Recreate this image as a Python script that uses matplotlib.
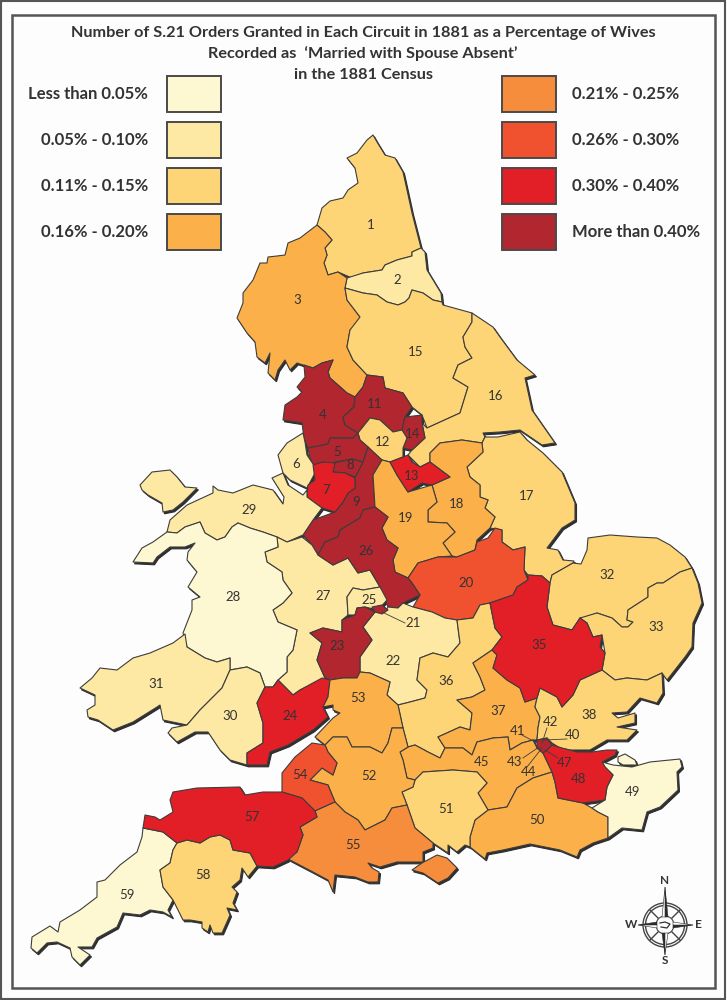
#!/usr/bin/env python3
"""S.21 orders by circuit, 1881: choropleth of England and Wales, traced by hand."""
import matplotlib

matplotlib.use("Agg")
import matplotlib.pyplot as plt
from matplotlib.patches import Circle, Polygon, Rectangle

plt.rcParams["font.family"] = ["Lato", "DejaVu Sans"]

TITLE_LINES = [
    "Number of S.21 Orders Granted in Each Circuit in 1881 as a Percentage of Wives",
    "Recorded as  \u2018Married with Spouse Absent\u2019",
    "in the 1881 Census",
]
BAND_LABELS = ["Less than 0.05%", "0.05% - 0.10%", "0.11% - 0.15%", "0.16% - 0.20%",
               "0.21% - 0.25%", "0.26% - 0.30%", "0.30% - 0.40%", "More than 0.40%"]
BAND_COLORS = ["#FEF8D2", "#FDE9A3", "#FDD577", "#FBB04A", "#F68D3C", "#F0522F", "#E21F27", "#B1262F"]

# outlines in image pixels (x, y down)
C1 = [(373,135),(377,142),(385,155),(395,158),(403,172),(407,190),(412,213),(421,248),(412,252),(412,256),(397,260),(385,265),(382,270),(363,273),(352,278),(338,272),(328,275),(324,263),(327,255),(325,248),(332,240),(325,232),(317,225),(322,208),(330,201),(343,198),(348,190),(358,183),(355,168),(347,158),(357,153),(367,140)]
C2 = [(421,248),(425,252),(427,270),(441,293),(442,302),(433,300),(423,293),(412,290),(409,298),(405,302),(398,305),(387,302),(377,295),(363,293),(345,288),(347,278),(363,273),(382,270),(385,265),(397,260),(412,256),(412,252)]
C3 = [(317,225),(325,232),(332,240),(325,248),(327,255),(324,263),(328,275),(338,272),(347,278),(345,288),(347,300),(360,317),(358,327),(350,330),(347,347),(353,360),(367,375),(363,387),(355,397),(347,393),(338,385),(330,378),(328,372),(333,360),(322,363),(313,368),(303,365),(297,363),(290,370),(285,360),(278,370),(275,380),(268,373),(270,353),(265,363),(257,357),(255,342),(247,333),(237,318),(243,303),(243,293),(253,280),(260,263),(267,263),(268,257),(277,256),(285,255),(288,243),(300,238)]
C4 = [(304,365),(313,368),(322,363),(333,360),(328,372),(330,378),(338,385),(347,393),(355,397),(354,407),(343,417),(345,425),(358,433),(353,438),(343,438),(330,438),(328,444),(308,448),(304,438),(302,423),(283,420),(285,405),(297,397),(302,392),(297,387),(305,377)]
C5 = [(308,448),(328,444),(330,438),(343,438),(353,438),(358,433),(360,440),(368,447),(363,462),(352,459),(335,462),(335,465),(323,462),(313,465),(310,458)]
C6 = [(303,433),(287,443),(278,455),(283,473),(290,480),(307,488),(315,473),(315,467),(307,455),(305,442)]
C7 = [(313,465),(323,462),(335,463),(333,472),(345,473),(355,478),(355,488),(348,493),(343,502),(335,512),(322,508),(307,497),(308,485),(315,480)]
C8 = [(333,463),(352,459),(363,462),(358,472),(355,477),(345,473),(333,472)]
C9 = [(368,447),(382,460),(373,475),(375,507),(363,510),(360,518),(340,530),(338,537),(325,542),(318,555),(312,545),(303,535),(313,520),(335,512),(343,502),(348,493),(355,488),(355,477),(363,462)]
C11 = [(367,375),(383,377),(385,388),(403,393),(412,407),(405,417),(402,430),(393,432),(380,420),(370,418),(358,433),(345,425),(343,417),(354,407),(355,397),(363,387)]
C12 = [(358,433),(370,418),(380,420),(393,432),(402,430),(407,438),(403,448),(403,457),(390,462),(382,460),(373,452),(368,447),(360,440)]
C13 = [(390,462),(403,457),(408,455),(412,462),(420,467),(430,462),(450,477),(432,485),(422,483),(408,492),(397,475)]
C14 = [(405,417),(422,415),(422,423),(425,438),(412,450),(403,448),(407,438),(402,430)]
C15 = [(345,288),(363,293),(377,295),(387,302),(398,305),(405,302),(409,298),(412,290),(423,293),(433,300),(442,302),(443,305),(472,313),(472,322),(463,337),(465,347),(472,358),(458,365),(453,378),(468,387),(460,413),(427,428),(422,415),(412,407),(403,393),(385,388),(383,377),(367,375),(353,360),(347,347),(350,330),(360,317),(347,300)]
C16 = [(472,313),(493,327),(500,337),(517,360),(535,375),(525,378),(532,410),(555,443),(542,445),(520,430),(500,432),(483,433),(485,437),(482,443),(462,440),(440,443),(430,453),(430,462),(420,467),(408,455),(412,450),(425,438),(422,423),(427,428),(460,413),(468,387),(453,378),(458,365),(472,358),(465,347),(463,337),(472,322)]
C17 = [(485,437),(498,437),(520,432),(527,440),(543,453),(562,472),(575,503),(575,520),(562,528),(547,548),(558,550),(563,560),(574,561),(573,563),(552,575),(550,583),(542,576),(528,575),(524,570),(525,547),(513,550),(502,542),(502,530),(490,528),(495,517),(485,508),(488,500),(480,497),(480,485),(470,477),(467,467),(483,452),(482,443)]
C18 = [(430,462),(430,453),(440,443),(462,440),(482,443),(483,452),(467,467),(470,477),(480,485),(480,497),(488,500),(485,508),(495,517),(490,528),(477,540),(475,550),(457,557),(452,556),(443,543),(455,532),(447,523),(428,522),(428,510),(437,502),(432,485),(450,477)]
C19 = [(382,460),(390,462),(397,475),(408,492),(432,485),(437,502),(428,510),(428,522),(447,523),(455,532),(443,543),(452,556),(438,557),(418,563),(408,578),(395,572),(393,560),(398,548),(387,540),(382,528),(388,517),(375,507),(373,475)]
C20 = [(412,583),(408,578),(418,563),(438,557),(457,557),(475,550),(477,542),(488,538),(495,528),(502,530),(502,542),(513,550),(525,547),(524,570),(528,580),(517,587),(513,595),(490,603),(480,605),(473,618),(457,620),(445,618),(432,612),(413,607),(420,595)]
C21 = [(372,607),(382,605),(388,610),(382,614),(375,612)]
C22 = [(375,612),(385,612),(388,607),(398,608),(403,603),(413,607),(432,612),(445,618),(457,620),(460,643),(448,657),(433,653),(420,658),(417,680),(427,690),(425,698),(410,702),(398,705),(387,695),(390,682),(370,673),(360,672),(360,657),(372,640),(363,627)]
C23 = [(357,608),(365,607),(375,612),(363,627),(372,640),(360,657),(360,672),(357,678),(343,678),(330,680),(325,678),(317,660),(322,643),(310,633),(323,628),(342,632),(342,620),(355,615)]
C24 = [(265,687),(273,687),(278,680),(293,695),(300,690),(322,678),(330,680),(328,697),(323,707),(328,717),(313,730),(288,745),(270,752),(267,765),(247,765),(247,753),(263,743),(263,723),(257,703)]
C25 = [(347,597),(353,588),(363,590),(380,587),(387,600),(378,610),(365,607),(357,608),(355,615),(348,615)]
C26 = [(375,507),(388,517),(382,528),(387,540),(398,548),(393,560),(395,572),(408,578),(412,583),(420,595),(403,603),(398,608),(388,607),(380,587),(370,570),(358,573),(348,558),(333,565),(318,555),(325,542),(338,537),(340,530),(360,518),(363,510)]
C27 = [(277,537),(287,542),(302,537),(312,545),(318,555),(333,565),(348,558),(358,573),(370,570),(380,587),(363,590),(353,588),(347,597),(348,615),(342,620),(342,632),(323,628),(310,633),(322,643),(317,660),(325,678),(300,690),(293,695),(278,680),(287,672),(287,657),(293,650),(297,630),(278,622),(273,610),(283,603),(292,593),(283,580),(282,572),(267,562),(265,552),(278,547)]
C28 = [(185,527),(200,522),(205,533),(217,540),(225,537),(232,527),(238,523),(250,528),(263,532),(277,537),(278,547),(265,552),(267,562),(282,572),(283,580),(292,593),(283,603),(273,610),(278,622),(297,630),(293,650),(287,657),(287,672),(278,680),(273,687),(265,687),(260,673),(247,667),(230,670),(230,658),(217,662),(205,658),(187,647),(183,633),(192,610),(192,600),(200,597),(188,587),(197,572),(187,560),(188,552),(195,543),(185,547),(170,547),(157,557),(153,563),(133,562),(142,548),(153,542),(167,532),(177,533)]
C29 = [(213,486),(218,490),(233,493),(253,485),(273,490),(283,504),(284,497),(272,478),(283,473),(288,485),(303,495),(307,490),(307,497),(322,508),(313,520),(303,535),(287,542),(277,537),(263,532),(250,528),(238,523),(232,527),(225,537),(217,540),(205,533),(200,522),(185,527),(177,533),(167,532),(170,520),(187,505),(213,493)]
ANGLESEY = [(140,485),(152,472),(170,470),(177,477),(185,487),(197,488),(183,502),(173,510),(163,512),(162,503),(148,495),(142,490)]
C30 = [(230,670),(247,667),(260,673),(265,687),(257,703),(263,723),(263,743),(247,753),(247,765),(230,760),(220,750),(208,732),(195,732),(177,742),(168,733),(172,728),(187,725),(200,710),(222,688)]
C31 = [(185,634),(187,647),(205,658),(217,662),(230,658),(230,670),(222,688),(200,710),(187,725),(163,720),(160,705),(157,707),(133,722),(113,730),(98,720),(88,717),(87,710),(95,705),(95,695),(80,688),(92,678),(100,668),(117,670),(133,658),(150,653),(173,643)]
C32 = [(547,607),(550,583),(552,575),(573,563),(581,564),(587,550),(588,538),(610,535),(637,537),(657,538),(670,545),(685,557),(692,568),(680,572),(663,583),(657,583),(648,588),(648,597),(628,610),(627,620),(633,622),(628,627),(622,627),(612,618),(597,613),(583,618),(580,618),(572,630),(553,625)]
C33 = [(692,568),(698,583),(702,603),(693,623),(692,647),(685,657),(667,680),(662,673),(647,680),(627,678),(615,680),(602,670),(605,653),(602,635),(593,637),(587,623),(580,618),(597,613),(612,618),(622,627),(628,627),(633,622),(627,620),(628,610),(648,597),(648,588),(657,583),(663,583),(680,572)]
C35 = [(517,587),(528,580),(528,575),(542,576),(550,583),(547,607),(553,625),(572,630),(580,618),(587,623),(593,637),(602,635),(600,647),(605,653),(602,670),(580,680),(573,695),(562,707),(557,697),(540,688),(537,698),(525,702),(520,688),(507,680),(493,668),(497,655),(492,650),(502,637),(495,628),(490,603),(513,595)]
C36 = [(457,620),(473,618),(480,605),(490,603),(495,628),(502,637),(492,650),(473,663),(480,677),(485,690),(472,697),(457,700),(472,713),(470,730),(460,727),(438,737),(445,748),(440,758),(428,752),(415,745),(408,747),(403,728),(398,705),(410,702),(425,698),(427,690),(417,680),(420,658),(433,653),(448,657),(460,643)]
C37 = [(492,650),(497,655),(493,668),(507,680),(520,688),(525,702),(537,698),(535,707),(540,717),(538,728),(537,740),(533,740),(522,743),(510,750),(508,737),(493,738),(477,742),(472,755),(463,748),(445,748),(438,737),(460,727),(470,730),(472,713),(457,700),(472,697),(485,690),(480,677),(473,663)]
C38 = [(537,698),(540,688),(557,697),(562,707),(573,695),(580,680),(602,670),(615,680),(627,678),(647,680),(662,673),(663,693),(657,703),(640,698),(627,712),(612,713),(618,718),(635,713),(635,723),(617,727),(637,730),(627,740),(607,740),(590,750),(570,750),(560,748),(552,743),(547,738),(537,740),(538,728),(540,717),(535,707)]
LONDON = [(537,740),(547,738),(552,745),(547,750),(543,753),(537,748)]
C45 = [(400,752),(408,747),(415,745),(428,752),(440,758),(445,748),(463,748),(472,755),(477,742),(493,738),(508,737),(510,750),(522,743),(533,740),(537,748),(543,753),(552,772),(533,778),(517,788),(507,807),(488,810),(478,793),(487,783),(477,772),(453,770),(423,772),(415,780),(407,778),(403,760)]
C48 = [(552,745),(562,748),(577,752),(592,752),(607,750),(617,750),(615,755),(602,762),(605,767),(613,775),(607,787),(605,800),(583,803),(558,798),(555,782),(552,772),(543,753)]
C49 = [(602,762),(613,765),(632,767),(650,762),(680,759),(682,767),(677,772),(678,790),(660,807),(647,812),(642,830),(622,828),(608,838),(608,817),(598,812),(592,808),(605,800),(607,787),(613,775),(605,767)]
SHEPPEY = [(618,757),(625,754),(635,760),(637,765),(623,765),(618,762)]
C50 = [(552,772),(555,782),(558,798),(583,803),(592,808),(598,812),(608,817),(608,838),(593,843),(580,850),(577,857),(560,850),(530,844),(503,850),(487,853),(485,859),(470,847),(470,837),(475,820),(488,810),(507,807),(517,788),(533,778)]
C51 = [(415,780),(423,772),(453,770),(477,772),(487,783),(478,793),(488,810),(475,820),(470,837),(470,847),(465,845),(457,852),(448,845),(448,853),(433,843),(415,828),(407,805),(402,792),(413,787)]
C52 = [(325,745),(333,737),(347,737),(352,747),(370,747),(382,753),(388,743),(392,728),(403,728),(408,747),(400,752),(403,760),(407,778),(415,780),(413,787),(402,792),(407,805),(392,808),(385,820),(365,830),(358,820),(345,812),(335,802),(328,785),(310,780),(322,768),(333,775),(337,763),(328,752)]
C53 = [(330,680),(343,678),(357,678),(360,672),(370,673),(390,682),(387,695),(398,705),(403,728),(392,728),(388,743),(382,753),(370,747),(352,747),(347,737),(333,737),(325,745),(315,737),(333,718),(340,713),(333,710),(333,705),(323,707),(328,697)]
C54 = [(312,743),(325,745),(328,752),(337,763),(333,775),(322,768),(310,780),(328,785),(335,802),(315,811),(302,798),(282,792),(282,773),(295,757)]
C55 = [(335,802),(345,812),(358,820),(365,830),(385,820),(392,808),(407,805),(415,828),(433,843),(433,848),(423,852),(423,862),(397,862),(380,867),(368,863),(372,868),(379,872),(378,882),(368,882),(355,877),(335,875),(333,892),(328,880),(313,872),(290,860),(288,857),(297,852),(303,835),(300,827),(317,817),(315,811)]
WIGHT = [(412,870),(422,863),(437,855),(447,858),(457,868),(448,878),(438,883),(423,873)]
C57 = [(173,792),(197,788),(240,787),(245,795),(263,792),(282,792),(302,798),(315,811),(317,817),(300,827),(303,835),(297,852),(288,860),(273,867),(257,866),(250,853),(233,850),(230,840),(220,835),(210,837),(200,843),(187,840),(177,843),(163,832),(143,828),(145,815),(155,817),(160,820),(173,812),(170,800)]
C58 = [(177,843),(187,840),(200,843),(210,837),(220,835),(230,840),(233,850),(250,853),(257,866),(248,877),(242,868),(240,880),(232,887),(237,892),(233,903),(237,910),(227,908),(230,915),(222,933),(213,933),(210,925),(208,932),(202,928),(202,922),(190,920),(183,920),(178,910),(173,900),(163,887),(160,870),(170,863),(173,850)]
C59 = [(143,828),(163,832),(177,843),(173,850),(170,863),(160,870),(163,887),(173,900),(168,910),(172,917),(163,912),(150,910),(140,915),(123,913),(117,927),(97,938),(92,947),(78,947),(90,955),(80,965),(72,957),(70,948),(57,942),(47,943),(37,953),(31,948),(32,937),(50,926),(58,932),(60,922),(80,910),(97,897),(97,882),(105,880),(120,865),(137,852),(142,837)]

# (outline, band index) in drawing order
REGIONS = [
    (C1, 2), (C2, 1), (C3, 3), (C15, 2), (C16, 2), (C17, 2), (C4, 7), (C11, 7), (C14, 7), (C12, 2),
    (C5, 7), (C6, 1), (C9, 7), (C8, 7), (C7, 6), (C18, 3), (C19, 3), (C13, 6), (C20, 5), (C29, 1),
    (ANGLESEY, 1), (C27, 1), (C28, 0), (C26, 7), (C25, 1), (C22, 1), (C23, 7), (C21, 7), (C31, 1),
    (C30, 1), (C24, 6), (C32, 2), (C33, 2), (C36, 2), (C37, 3), (C38, 2), (C35, 6), (C45, 3), (C50, 3),
    (C51, 2), (C49, 0), (SHEPPEY, 0), (C48, 6), (LONDON, 7), (C53, 3), (C52, 3), (C54, 5), (C55, 4),
    (WIGHT, 4), (C59, 0), (C58, 2), (C57, 6),
]

CIRCUIT_NUMBERS = [1, 2, 3, 4, 5, 6, 7, 8, 9, 11, 12, 13, 14, 15, 16, 17, 18, 19, 20, 21, 22, 23, 24, 25,
                   26, 27, 28, 29, 30, 31, 32, 33, 35, 36, 37, 38, 40, 41, 42, 43, 44, 45, 47, 48, 49,
                   50, 51, 52, 53, 54, 55, 57, 58, 59]
LABEL_X = [371, 397, 297, 323, 337, 296, 326, 350, 356, 375, 383, 412, 413, 416, 496, 527, 457, 406, 466, 413,
           393, 337, 290, 369, 366, 323, 233, 249, 230, 156, 607, 656, 539, 446, 498, 589, 573, 518, 551, 515,
           529, 482, 565, 579, 633, 537, 446, 369, 358, 300, 353, 252, 203, 127]
LABEL_Y = [225, 280, 300, 415, 452, 464, 490, 465, 502, 404, 442, 476, 434, 352, 396, 496, 504, 518, 583, 623,
           661, 646, 716, 600, 551, 596, 597, 510, 716, 684, 575, 627, 645, 681, 711, 715, 735, 731, 722, 762,
           772, 762, 763, 779, 792, 820, 809, 776, 698, 775, 845, 817, 875, 895]

# leader lines: label end, region end
LEADERS = [((382, 612), (405, 623)), ((543, 740), (567, 739)), ((522, 735), (537, 743)),
           ((547, 728), (542, 743)), ((523, 758), (539, 747)), ((527, 767), (542, 748)),
           ((558, 758), (545, 750))]

TEXT_COLOR = "#333333"
EDGE_COLOR = "#3d3d3d"
SHADOW_COLOR = "#2e2e2e"

fig = plt.figure(figsize=(7.27, 10), dpi=100, facecolor="#fdfdfd")
ax = fig.add_axes([0, 0, 1, 1])
ax.set_xlim(0, 727)
ax.set_ylim(1000, 0)
ax.axis("off")

# double frame
ax.add_patch(Rectangle((1, 1), 724, 998, fill=False, ec="#555555", lw=1.5))
ax.add_patch(Rectangle((12, 15), 703, 973, fill=False, ec="#555555", lw=1.8))

for i, line in enumerate(TITLE_LINES):
    ax.text(363, 33 + i * 21, line, ha="center", va="center", fontsize=11.7, fontweight="bold", color=TEXT_COLOR)

# legend, two columns of four
for i, (label, color) in enumerate(zip(BAND_LABELS, BAND_COLORS)):
    col, row = i // 4, i % 4
    y = 76 + row * 46
    box_x = 167 if col == 0 else 502
    ax.add_patch(Rectangle((box_x, y), 54, 36, fc=color, ec="#4a4a4a", lw=1.4))
    if col == 0:
        ax.text(148, y + 18, label, ha="right", va="center", fontsize=12, fontweight="bold", color=TEXT_COLOR)
    else:
        ax.text(572, y + 18, label, ha="left", va="center", fontsize=12, fontweight="bold", color=TEXT_COLOR)

# coast shadow first, regions on top
for outline, band in REGIONS:
    ax.add_patch(Polygon([(x + 1.5, y + 1.8) for x, y in outline], fc=SHADOW_COLOR, ec=SHADOW_COLOR, lw=0.8, zorder=2))
for outline, band in REGIONS:
    ax.add_patch(Polygon(outline, fc=BAND_COLORS[band], ec=EDGE_COLOR, lw=0.8, joinstyle="round", zorder=3))

for start, end in LEADERS:
    ax.plot([start[0], end[0]], [start[1], end[1]], color=EDGE_COLOR, lw=0.6, zorder=4)

for num, x, y in zip(CIRCUIT_NUMBERS, LABEL_X, LABEL_Y):
    ax.text(x, y, str(num), ha="center", va="center", fontsize=9.5, family=["Lato", "DejaVu Sans"],
            color=TEXT_COLOR, zorder=5)

# compass rose
cx, cy = 665, 925
for r, lw in [(22, 1.0), (19.5, 1.0), (9, 0.8)]:
    ax.add_patch(Circle((cx, cy), r, fc="none", ec="#444444", lw=lw, zorder=5))
for dx, dy in [(1, 1), (1, -1), (-1, 1), (-1, -1)]:
    ax.plot([cx + dx * 7, cx + dx * 15], [cy + dy * 7, cy + dy * 15], color="#444444", lw=1.0, zorder=5)
for dx, dy, length in [(0, -1, 38), (0, 1, 30), (1, 0, 28), (-1, 0, 27)]:
    px, py = -dy * 3, dx * 3
    tip = (cx + dx * length, cy + dy * length)
    base = (cx + dx * 8, cy + dy * 8)
    ax.add_patch(Polygon([tip, (base[0] + px, base[1] + py), base], fc="#2b2b2b", ec="#2b2b2b", lw=0.4, zorder=6))
    ax.add_patch(Polygon([tip, (base[0] - px, base[1] - py), base], fc="#ffffff", ec="#2b2b2b", lw=0.4, zorder=6))
ax.plot([cx - 5, cx, cx + 5, cx + 2, cx - 4], [cy - 2, cy - 3, cy - 1, cy + 3, cy + 2], color="#333333", lw=0.9, zorder=6)
for letter, x, y in [("N", 665, 881), ("S", 665, 961), ("W", 631, 925), ("E", 698, 925)]:
    ax.text(x, y, letter, ha="center", va="center", fontsize=8.5, fontweight="bold", color=TEXT_COLOR)

fig.savefig("out.png", dpi=100, facecolor=fig.get_facecolor())
